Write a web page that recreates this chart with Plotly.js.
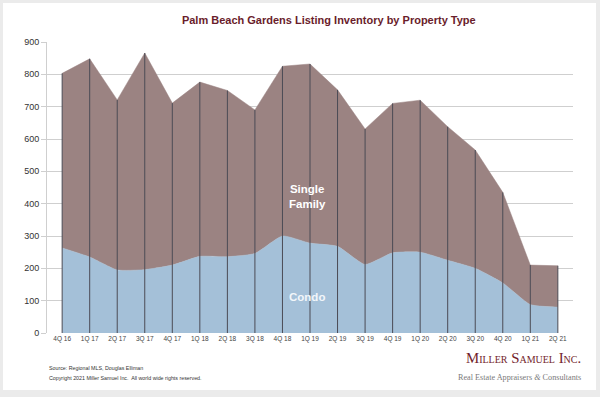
<!DOCTYPE html>
<html>
<head>
<meta charset="utf-8">
<script src="https://cdn.plot.ly/plotly-3.0.1.min.js"></script>
<style>
  html, body { margin: 0; padding: 0; background: #ebebeb; }
  #card { position: absolute; left: 3px; top: 3px; width: 593px; height: 387px; background: #ffffff; }
  #chart { position: absolute; left: 0; top: 0; width: 600px; height: 397px; }
</style>
</head>
<body>
<div id="card"></div>
<div id="chart"></div>
<script>
const quarters = ["4Q 16","1Q 17","2Q 17","3Q 17","4Q 17","1Q 18","2Q 18","3Q 18","4Q 18","1Q 19","2Q 19","3Q 19","4Q 19","1Q 20","2Q 20","3Q 20","4Q 20","1Q 21","2Q 21"];
const condo = [263, 235, 195, 196, 210, 237, 236, 246, 300, 278, 268, 212, 248, 250, 225, 200, 155, 88, 80];
const totalInventory = [803, 848, 721, 866, 711, 776, 750, 690, 825, 832, 752, 631, 710, 720, 638, 566, 435, 210, 208];
const singleFamily = totalInventory.map((t, i) => t - condo[i]);
const yTicks = [0, 100, 200, 300, 400, 500, 600, 700, 800, 900];

const idx = quarters.map((q, i) => i);

// vertical separator lines at each quarter, from 0 up to the stacked total
const vx = [], vy = [];
idx.forEach(i => { vx.push(i, i, null); vy.push(0, totalInventory[i], null); });

const traces = [
  {
    x: idx, y: condo, type: 'scatter', mode: 'lines', name: 'Condo',
    fill: 'tozeroy', fillcolor: '#a4c0d8',
    line: { color: '#a4c0d8', width: 0.5, shape: 'spline', smoothing: 0.5 },
    hoverinfo: 'skip'
  },
  {
    x: idx, y: totalInventory, type: 'scatter', mode: 'lines', name: 'Single Family',
    fill: 'tonexty', fillcolor: '#9b8382',
    line: { color: '#9b8382', width: 0.5 },
    hoverinfo: 'skip'
  },
  {
    x: vx, y: vy, type: 'scatter', mode: 'lines',
    line: { color: '#4b4b55', width: 1 },
    hoverinfo: 'skip', connectgaps: false
  }
];

const layout = {
  width: 600, height: 397,
  margin: { l: 47, r: 27, t: 42, b: 64 },
  paper_bgcolor: 'rgba(0,0,0,0)',
  plot_bgcolor: 'rgba(0,0,0,0)',
  showlegend: false,
  font: { family: 'Liberation Sans, Arial, sans-serif', color: '#333' },
  title: {
    text: '<b>Palm Beach Gardens Listing Inventory by Property Type</b>',
    font: { size: 11, color: '#6a1d2b', family: 'Liberation Sans, Arial, sans-serif' },
    x: 0.548, xanchor: 'center', y: 0.948, yanchor: 'middle'
  },
  xaxis: {
    type: 'linear', range: [-0.55, 18.55],
    tickvals: idx, ticktext: quarters,
    tickfont: { size: 6.5, color: '#444' },
    showgrid: false, zeroline: false, showline: false,
    ticks: '', ticklen: 0
  },
  yaxis: {
    range: [0, 900], tickvals: yTicks,
    tickfont: { size: 9, color: '#333' },
    showgrid: true, gridcolor: '#cfcfcf', gridwidth: 1,
    zeroline: false, showline: true, linecolor: '#cfcfcf', linewidth: 1,
    ticks: 'outside', ticklen: 5, tickcolor: '#cfcfcf'
  },
  annotations: [
    { x: 8.9, y: 422, xref: 'x', yref: 'y', text: '<b>Single<br>Family</b>', showarrow: false,
      font: { size: 11.5, color: '#ffffff' } },
    { x: 8.9, y: 110, xref: 'x', yref: 'y', text: '<b>Condo</b>', showarrow: false,
      font: { size: 11.5, color: '#f2f6fa' } },
    { x: 0, y: (333 - 368) / 291, xref: 'paper', yref: 'paper', xanchor: 'left', yanchor: 'middle',
      text: 'Source: Regional MLS, Douglas Elliman', showarrow: false,
      font: { size: 5.3, color: '#333' } },
    { x: 0, y: (333 - 378) / 291, xref: 'paper', yref: 'paper', xanchor: 'left', yanchor: 'middle',
      text: 'Copyright 2021 Miller Samuel Inc.  All world wide rights reserved.', showarrow: false,
      font: { size: 5.3, color: '#333' } },
    { x: (583 - 47) / 526, y: (333 - 358) / 291, xref: 'paper', yref: 'paper', xanchor: 'right', yanchor: 'middle',
      text: 'Miller Samuel Inc.', showarrow: false,
      font: { size: 14.8, color: '#731e2c', family: 'Liberation Serif, Times New Roman, serif', variant: 'small-caps' } },
    { x: (583 - 47) / 526, y: (333 - 378) / 291, xref: 'paper', yref: 'paper', xanchor: 'right', yanchor: 'middle',
      text: 'Real Estate Appraisers <i>&amp;</i> Consultants', showarrow: false,
      font: { size: 8.2, color: '#7a7a7a', family: 'Liberation Serif, Times New Roman, serif' } }
  ]
};

Plotly.newPlot('chart', traces, layout, { displayModeBar: false, staticPlot: true });
</script>
</body>
</html>
